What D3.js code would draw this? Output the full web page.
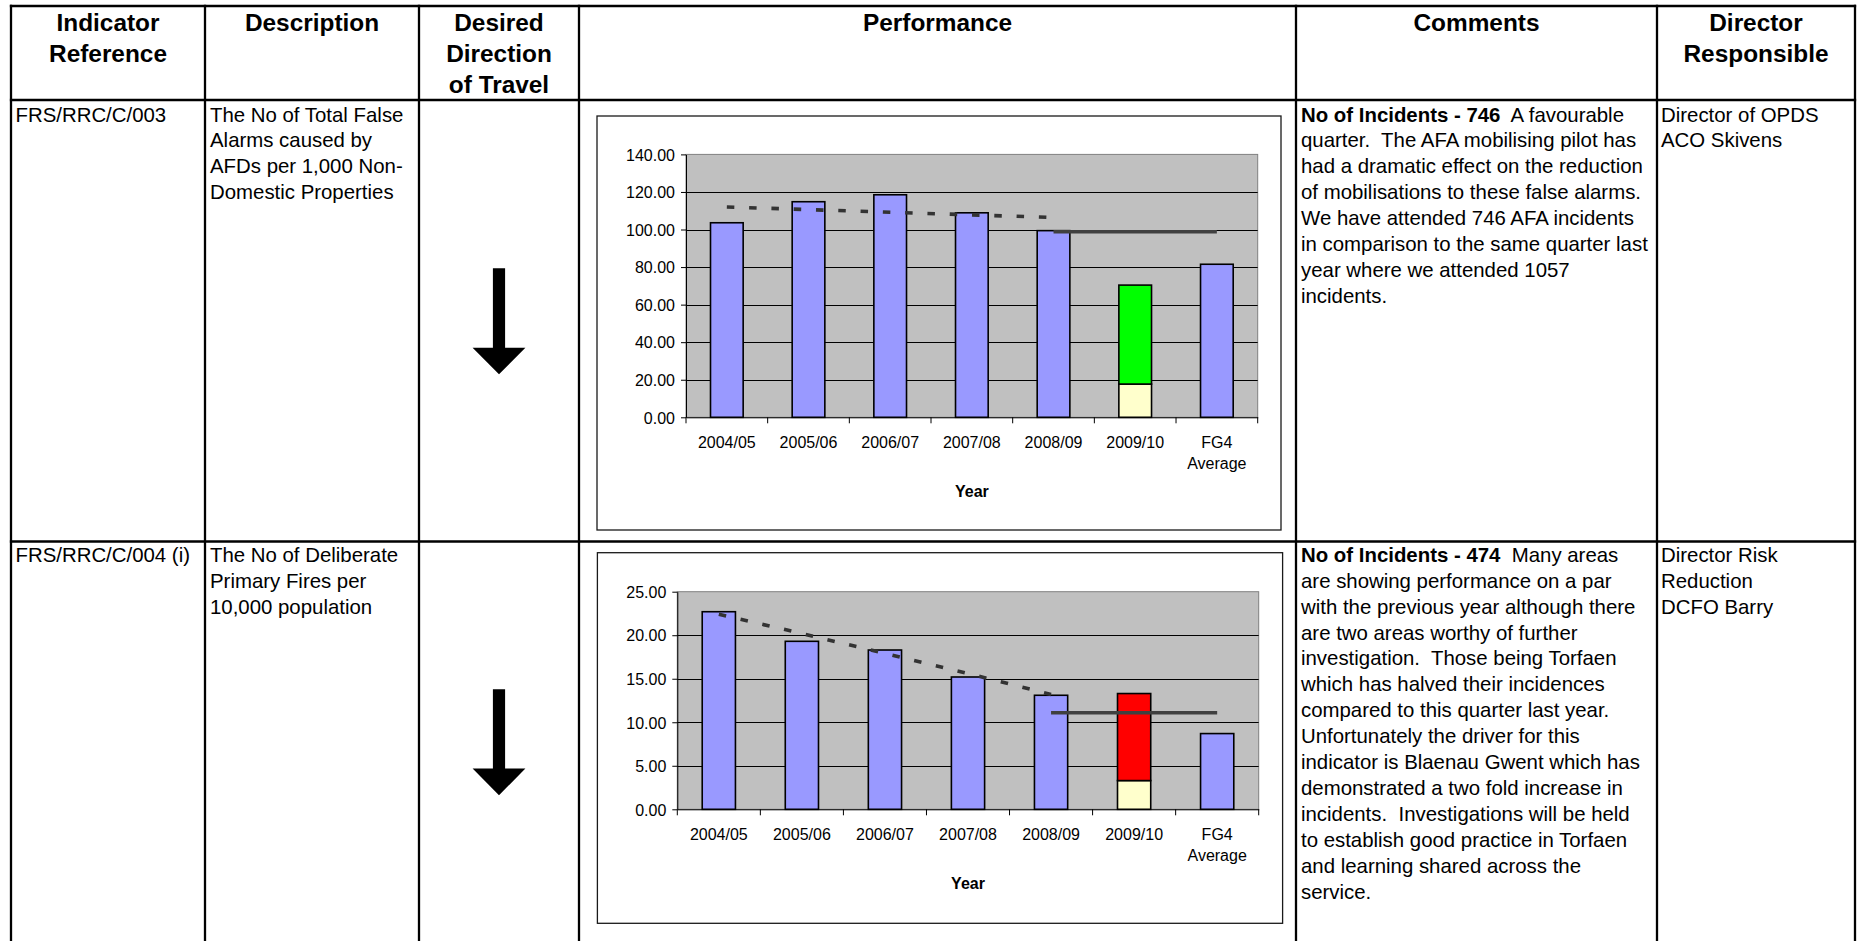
<!DOCTYPE html>
<html>
<head>
<meta charset="utf-8">
<script src="https://cdn.jsdelivr.net/npm/d3@7"></script>
<style>
  html, body { margin: 0; padding: 0; background: #fff; }
  svg { display: block; }
  text { font-family: "Liberation Sans", Arial, Helvetica, sans-serif; fill: #000; }
</style>
</head>
<body>
<svg id="sheet" width="1858" height="941"></svg>
<script>
// ---- Report content -------------------------------------------------------
const headers = [
  ["Indicator", "Reference"],
  ["Description"],
  ["Desired", "Direction", "of Travel"],
  ["Performance"],
  ["Comments"],
  ["Director", "Responsible"]
];

const indicatorRefs = ["FRS/RRC/C/003", "FRS/RRC/C/004 (i)"];

const descriptions = [
  ["The No of Total False", "Alarms caused by", "AFDs per 1,000 Non-", "Domestic Properties"],
  ["The No of Deliberate", "Primary Fires per", "10,000 population"]
];

const commentLeads = ["No of Incidents - 746", "No of Incidents - 474"];

const comments = [
  ["  A favourable",
   "quarter.  The AFA mobilising pilot has",
   "had a dramatic effect on the reduction",
   "of mobilisations to these false alarms.",
   "We have attended 746 AFA incidents",
   "in comparison to the same quarter last",
   "year where we attended 1057",
   "incidents."],
  ["  Many areas",
   "are showing performance on a par",
   "with the previous year although there",
   "are two areas worthy of further",
   "investigation.  Those being Torfaen",
   "which has halved their incidences",
   "compared to this quarter last year.",
   "Unfortunately the driver for this",
   "indicator is Blaenau Gwent which has",
   "demonstrated a two fold increase in",
   "incidents.  Investigations will be held",
   "to establish good practice in Torfaen",
   "and learning shared across the",
   "service."]
];

const directors = [
  ["Director of OPDS", "ACO Skivens"],
  ["Director Risk", "Reduction", "DCFO Barry"]
];

// ---- Chart data -----------------------------------------------------------
const categories = ["2004/05", "2005/06", "2006/07", "2007/08", "2008/09", "2009/10", "FG4\nAverage"];
const currentYear = "2009/10";

// False alarms caused by AFDs per 1,000 non-domestic properties
const afaActual    = [103.6, 114.8, 118.5, 108.9, 99.4, 17.7, 81.5];
const afaRemaining = [0, 0, 0, 0, 0, 52.7, 0];
const afaTrend     = [112.0, 110.6, 109.2, 107.8, 106.4];
const afaTarget    = [98.8, 98.8, 98.8];
const afaTicks     = [0, 20, 40, 60, 80, 100, 120, 140];

// Deliberate primary fires per 10,000 population
const dpfActual    = [22.7, 19.3, 18.3, 15.2, 13.1, 3.3, 8.7];
const dpfRemaining = [0, 0, 0, 0, 0, 10.0, 0];
const dpfTrend     = [22.4, 20.2, 17.9, 15.6, 13.2];
const dpfTarget    = [11.1, 11.1, 11.1];
const dpfTicks     = [0, 5, 10, 15, 20, 25];

// ---- Layout -----------------------------------------------------------------
const W = 1858, H = 941;
const colX = [11, 205, 419, 579, 1296, 1657, 1855];
const tableTop = 6, headerBottom = 100, rowTops = [100, 541.5];
const textTops = [100, 540.3];
const FONT_HEAD = 24.4, FONT_BODY = 20.4, FONT_CHART = 16;
const HEAD_BASE = 30.6, HEAD_STEP = 31.1;
const BODY_OFF = 21.5, BODY_STEP = 25.9;

const svg = d3.select("#sheet");
svg.append("rect").attr("width", W).attr("height", H).attr("fill", "#fff");

// header captions
headers.forEach((lines, c) => {
  const cx = (colX[c] + colX[c + 1]) / 2;
  const t = svg.append("text")
    .attr("text-anchor", "middle")
    .attr("font-size", FONT_HEAD)
    .attr("font-weight", "bold");
  lines.forEach((s, i) => {
    t.append("tspan").attr("x", cx).attr("y", HEAD_BASE + i * HEAD_STEP).text(s);
  });
});

function bodyLines(x, top, lines) {
  const t = svg.append("text").attr("font-size", FONT_BODY).attr("xml:space", "preserve");
  lines.forEach((s, i) => {
    t.append("tspan").attr("x", x).attr("y", top + BODY_OFF + i * BODY_STEP).text(s);
  });
  return t;
}

textTops.forEach((top, r) => {
  bodyLines(colX[0] + 4.5, top, [indicatorRefs[r]]);
  bodyLines(colX[1] + 5, top, descriptions[r]);
  bodyLines(colX[5] + 4, top, directors[r]);

  // comment: bold lead-in followed by the narrative
  const t = svg.append("text").attr("font-size", FONT_BODY).attr("xml:space", "preserve");
  const x = colX[4] + 5;
  const first = t.append("tspan").attr("x", x).attr("y", top + BODY_OFF);
  first.append("tspan").attr("font-weight", "bold").text(commentLeads[r]);
  first.append("tspan").text(comments[r][0]);
  comments[r].slice(1).forEach((s, i) => {
    t.append("tspan").attr("x", x).attr("y", top + BODY_OFF + (i + 1) * BODY_STEP).text(s);
  });
});

// desired direction arrows (down = improvement)
function downArrow(cx, cy) {
  const len = 106, shaftHalf = 6.1, headHalf = 26.4, headLen = 26.6;
  const top = cy - len / 2, tip = cy + len / 2, headTop = tip - headLen;
  const p = d3.path();
  p.moveTo(cx - shaftHalf, top);
  p.lineTo(cx + shaftHalf, top);
  p.lineTo(cx + shaftHalf, headTop);
  p.lineTo(cx + headHalf, headTop);
  p.lineTo(cx, tip);
  p.lineTo(cx - headHalf, headTop);
  p.lineTo(cx - shaftHalf, headTop);
  p.closePath();
  svg.append("path").attr("d", p.toString()).attr("fill", "#000");
}
downArrow((colX[2] + colX[3]) / 2, 321.3);
downArrow((colX[2] + colX[3]) / 2, 742.2);

// ---- Performance charts -----------------------------------------------------
function drawChart(spec) {
  const g = svg.append("g");
  const [bx0, by0, bx1, by1] = spec.box;
  const [px0, py0, px1, py1] = spec.plot;

  g.append("rect")
    .attr("x", bx0).attr("y", by0).attr("width", bx1 - bx0).attr("height", by1 - by0)
    .attr("fill", "#fff").attr("stroke", "#1a1a1a").attr("stroke-width", 1.3);

  const x = d3.scaleBand().domain(categories).range([px0, px1])
    .paddingInner(0.6).paddingOuter(0.3);
  const y = d3.scaleLinear().domain([0, spec.max]).range([py1, py0]);
  const step = x.step();
  const mid = c => x(c) + x.bandwidth() / 2;

  g.append("rect")
    .attr("x", px0).attr("y", py0).attr("width", px1 - px0).attr("height", py1 - py0)
    .attr("fill", "#C0C0C0").attr("stroke", "#808080").attr("stroke-width", 1);

  // gridlines
  g.append("g").selectAll("line")
    .data(spec.ticks.filter(d => d > 0 && d < spec.max))
    .join("line")
    .attr("x1", px0).attr("x2", px1)
    .attr("y1", d => Math.round(y(d)) + 0.5).attr("y2", d => Math.round(y(d)) + 0.5)
    .attr("stroke", "#000").attr("stroke-width", 1);

  // stacked bars: actual + remaining projection
  const rows = categories.map((c, i) => ({ cat: c, actual: spec.actual[i], remaining: spec.remaining[i] }));
  const stacked = d3.stack().keys(["actual", "remaining"])(rows);
  stacked.forEach(series => {
    g.append("g").selectAll("rect")
      .data(series.filter(d => d[1] - d[0] > 0))
      .join("rect")
      .attr("x", d => x(d.data.cat))
      .attr("width", x.bandwidth())
      .attr("y", d => y(d[1]))
      .attr("height", d => y(d[0]) - y(d[1]))
      .attr("fill", d => series.key === "remaining" ? spec.remainingColour
                          : (d.data.cat === currentYear ? "#FFFFCC" : "#9999FF"))
      .attr("stroke", "#000").attr("stroke-width", 1.6);
  });

  // historic trend (dashed) and target (solid)
  const line = d3.line().x(d => mid(d.cat)).y(d => y(d.v));
  g.append("path")
    .datum(spec.trend.map((v, i) => ({ cat: categories[i], v })))
    .attr("d", line).attr("fill", "none")
    .attr("stroke", "#333").attr("stroke-width", 3.6).attr("stroke-dasharray", "7.5,14.8");
  const tStart = categories.length - spec.target.length;
  g.append("path")
    .datum(spec.target.map((v, i) => ({ cat: categories[tStart + i], v })))
    .attr("d", line).attr("fill", "none")
    .attr("stroke", "#404040").attr("stroke-width", 3.4);

  // y axis
  const yAxis = g.append("g").attr("transform", `translate(${px0},0)`)
    .call(d3.axisLeft(y).tickValues(spec.ticks).tickFormat(d3.format(".2f"))
      .tickSize(5).tickPadding(6).tickSizeOuter(0));
  yAxis.select(".domain").attr("stroke", "#000");
  yAxis.selectAll("line").attr("stroke", "#000");
  yAxis.selectAll("text").attr("font-size", FONT_CHART)
    .attr("font-family", "Liberation Sans, Arial, sans-serif").attr("fill", "#000").attr("dy", "0.36em");

  // x axis: labels under band centres, ticks on band boundaries
  const xAxis = g.append("g").attr("transform", `translate(0,${py1})`)
    .call(d3.axisBottom(x).tickSize(0).tickPadding(0).tickSizeOuter(0));
  xAxis.select(".domain").attr("stroke", "#000");
  xAxis.selectAll("text").each(function (d) {
    const t = d3.select(this).attr("y", 0).attr("dy", null)
      .attr("font-size", FONT_CHART).attr("fill", "#000")
      .attr("font-family", "Liberation Sans, Arial, sans-serif").text(null);
    d.split("\n").forEach((s, i) => t.append("tspan").attr("x", 0).attr("y", 31 + i * 20.6).text(s));
  });
  g.append("g").selectAll("line")
    .data(d3.range(categories.length + 1))
    .join("line")
    .attr("x1", i => px0 + i * step).attr("x2", i => px0 + i * step)
    .attr("y1", py1).attr("y2", py1 + 6)
    .attr("stroke", "#000").attr("stroke-width", 1);

  g.append("text")
    .attr("x", (px0 + px1) / 2).attr("y", py1 + 80)
    .attr("text-anchor", "middle").attr("font-size", FONT_CHART).attr("font-weight", "bold")
    .text("Year");
}

drawChart({
  box: [597, 116, 1281, 530],
  plot: [686, 154.4, 1257.7, 417.3],
  max: 140, ticks: afaTicks,
  actual: afaActual, remaining: afaRemaining, remainingColour: "#00FF00",
  trend: afaTrend, target: afaTarget
});

drawChart({
  box: [597.4, 552.7, 1282.6, 923.3],
  plot: [677.3, 591.7, 1258.7, 809.3],
  max: 25, ticks: dpfTicks,
  actual: dpfActual, remaining: dpfRemaining, remainingColour: "#FF0000",
  trend: dpfTrend, target: dpfTarget
});

// ---- Table rules ------------------------------------------------------------
const rules = svg.append("g").attr("stroke", "#000").attr("stroke-width", 2.3);
[tableTop, headerBottom, rowTops[1]].forEach(yy => {
  rules.append("line").attr("x1", colX[0] - 1.15).attr("x2", colX[6] + 1.15).attr("y1", yy).attr("y2", yy);
});
colX.forEach(xx => {
  rules.append("line").attr("x1", xx).attr("x2", xx).attr("y1", tableTop - 1.15).attr("y2", H + 2);
});
</script>
</body>
</html>
